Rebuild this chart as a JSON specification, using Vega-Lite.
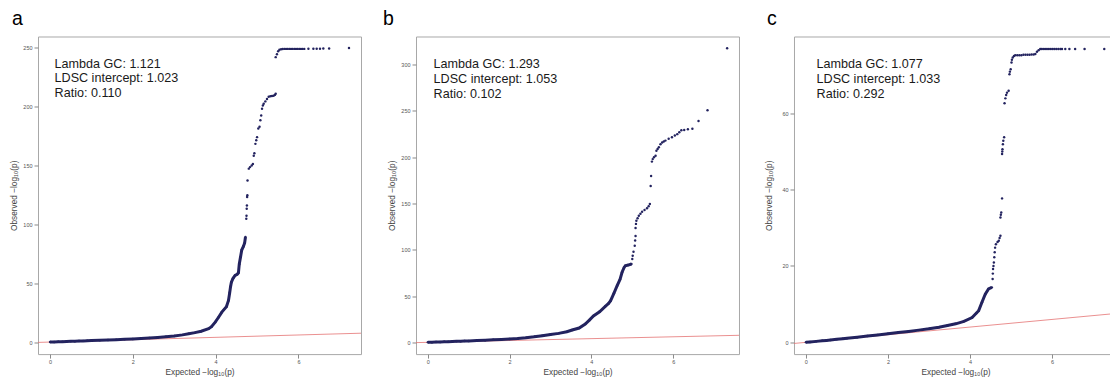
{
  "$schema": "https://vega.github.io/schema/vega-lite/v6.json",
  "background": "white",
  "padding": {"left": 8, "top": 7.5, "right": 0, "bottom": 0},
  "bounds": "flush",
  "spacing": 55,
  "config": {
    "font": "Liberation Sans",
    "view": {"stroke": "#a8a8a8", "strokeWidth": 1},
    "axis": {"grid": false, "domain": false, "tickColor": "#8a8a8a", "tickSize": 4, "labelFontSize": 5.5, "labelColor": "#555555", "titleFontSize": 8.3, "titleFontWeight": "normal", "titleColor": "#444444", "labelFont": "Liberation Sans", "titleFont": "Liberation Sans"},
    "axisY": {"minExtent": 16, "maxExtent": 16, "titlePadding": 4, "labelPadding": 2},
    "axisX": {"labelPadding": 1.5, "titlePadding": 2.5},
    "title": {"fontSize": 19.5, "fontWeight": "normal", "anchor": "start", "frame": "group", "baseline": "alphabetic", "color": "#000000", "font": "Liberation Sans"}
  },
  "datasets": {
    "diag": [{"x": -0.4, "y": -0.4}, {"x": 7.8, "y": 7.8}],
    "ann": [
      {"panel": "a", "x": 0.11, "y": 232.5, "label": "Lambda GC: 1.121\nLDSC intercept: 1.023\nRatio: 0.110"},
      {"panel": "b", "x": 0.14, "y": 296.2, "label": "Lambda GC: 1.293\nLDSC intercept: 1.053\nRatio: 0.102"},
      {"panel": "c", "x": 0.26, "y": 71.8, "label": "Lambda GC: 1.077\nLDSC intercept: 1.033\nRatio: 0.292"}
    ],
    "a": [
      {"x": 0, "y": 0}, {"x": 0.1, "y": 0.1}, {"x": 0.2, "y": 0.25}, {"x": 0.3, "y": 0.35}, {"x": 0.4, "y": 0.5}, {"x": 0.5, "y": 0.6}, {"x": 0.6, "y": 0.75}, {"x": 0.7, "y": 0.85}, {"x": 0.8, "y": 1.0}, {"x": 0.9, "y": 1.1}, {"x": 1.0, "y": 1.25}, {"x": 1.2, "y": 1.5}, {"x": 1.4, "y": 1.8}, {"x": 1.6, "y": 2.05}, {"x": 1.8, "y": 2.35}, {"x": 2.0, "y": 2.65}, {"x": 2.2, "y": 3.0}, {"x": 2.4, "y": 3.4}, {"x": 2.6, "y": 3.9}, {"x": 2.8, "y": 4.5}, {"x": 3.0, "y": 5.2}, {"x": 3.2, "y": 6.1}, {"x": 3.35, "y": 7.0}, {"x": 3.5, "y": 8.0}, {"x": 3.65, "y": 9.2}, {"x": 3.83, "y": 11.3}, {"x": 3.9, "y": 13}, {"x": 3.99, "y": 16.9}, {"x": 4.07, "y": 21}, {"x": 4.15, "y": 25.4}, {"x": 4.2, "y": 27.5}, {"x": 4.26, "y": 30}, {"x": 4.31, "y": 35.3}, {"x": 4.34, "y": 42}, {"x": 4.36, "y": 47}, {"x": 4.38, "y": 50.8}, {"x": 4.42, "y": 54}, {"x": 4.47, "y": 56.5}, {"x": 4.52, "y": 57.5}, {"x": 4.55, "y": 58.7}, {"x": 4.57, "y": 66}, {"x": 4.6, "y": 72}, {"x": 4.63, "y": 78}, {"x": 4.67, "y": 81}, {"x": 4.7, "y": 84}, {"x": 4.72, "y": 89},
      {"x": 4.74, "y": 104.5}, {"x": 4.745, "y": 107}, {"x": 4.75, "y": 113}, {"x": 4.755, "y": 115.8}, {"x": 4.76, "y": 122.9}, {"x": 4.765, "y": 124.5}, {"x": 4.77, "y": 137}, {"x": 4.8, "y": 147}, {"x": 4.83, "y": 148.3}, {"x": 4.87, "y": 149.7}, {"x": 4.9, "y": 151}, {"x": 4.92, "y": 158}, {"x": 4.935, "y": 160}, {"x": 4.96, "y": 168}, {"x": 4.98, "y": 171}, {"x": 5.0, "y": 173.7}, {"x": 5.03, "y": 181}, {"x": 5.06, "y": 182.5}, {"x": 5.08, "y": 188}, {"x": 5.1, "y": 192}, {"x": 5.12, "y": 197.7}, {"x": 5.14, "y": 200.5}, {"x": 5.16, "y": 202}, {"x": 5.2, "y": 204}, {"x": 5.24, "y": 206}, {"x": 5.28, "y": 208}, {"x": 5.32, "y": 208.3}, {"x": 5.36, "y": 208.5}, {"x": 5.4, "y": 208.8}, {"x": 5.43, "y": 209.5}, {"x": 5.45, "y": 210.4},
      {"x": 5.45, "y": 241.5}, {"x": 5.48, "y": 244}, {"x": 5.51, "y": 246.5}, {"x": 5.54, "y": 247.7}, {"x": 5.58, "y": 248.2}, {"x": 5.62, "y": 248.4}, {"x": 5.66, "y": 248.5}, {"x": 5.7, "y": 248.5}, {"x": 5.74, "y": 248.5}, {"x": 5.78, "y": 248.5}, {"x": 5.82, "y": 248.5}, {"x": 5.86, "y": 248.5}, {"x": 5.9, "y": 248.5}, {"x": 5.94, "y": 248.5}, {"x": 5.98, "y": 248.5}, {"x": 6.02, "y": 248.5}, {"x": 6.06, "y": 248.5}, {"x": 6.1, "y": 248.5}, {"x": 6.14, "y": 248.5}, {"x": 6.24, "y": 248.6}, {"x": 6.36, "y": 248.6}, {"x": 6.44, "y": 248.7}, {"x": 6.52, "y": 248.7}, {"x": 6.6, "y": 248.8}, {"x": 6.74, "y": 248.8}, {"x": 7.22, "y": 249.2}
    ],
    "b": [
      {"x": 0, "y": 0}, {"x": 0.1, "y": 0.15}, {"x": 0.2, "y": 0.3}, {"x": 0.3, "y": 0.45}, {"x": 0.4, "y": 0.6}, {"x": 0.5, "y": 0.75}, {"x": 0.6, "y": 0.9}, {"x": 0.7, "y": 1.05}, {"x": 0.8, "y": 1.2}, {"x": 0.9, "y": 1.35}, {"x": 1.0, "y": 1.5}, {"x": 1.2, "y": 1.9}, {"x": 1.4, "y": 2.3}, {"x": 1.6, "y": 2.7}, {"x": 1.8, "y": 3.1}, {"x": 2.0, "y": 3.6}, {"x": 2.2, "y": 4.2}, {"x": 2.4, "y": 5.0}, {"x": 2.6, "y": 6.0}, {"x": 2.8, "y": 7.2}, {"x": 3.0, "y": 8.5}, {"x": 3.2, "y": 9.7}, {"x": 3.4, "y": 11.5}, {"x": 3.53, "y": 13.3}, {"x": 3.7, "y": 15.5}, {"x": 3.85, "y": 19.8}, {"x": 3.95, "y": 24}, {"x": 4.05, "y": 28.5}, {"x": 4.2, "y": 33}, {"x": 4.34, "y": 38.9}, {"x": 4.42, "y": 42}, {"x": 4.47, "y": 45}, {"x": 4.55, "y": 53}, {"x": 4.63, "y": 61.2}, {"x": 4.7, "y": 68}, {"x": 4.75, "y": 75.7}, {"x": 4.8, "y": 81}, {"x": 4.83, "y": 82.8}, {"x": 4.9, "y": 83.5}, {"x": 4.98, "y": 84.6},
      {"x": 5.0, "y": 90}, {"x": 5.01, "y": 93.6}, {"x": 5.03, "y": 98}, {"x": 5.06, "y": 104.4}, {"x": 5.07, "y": 110}, {"x": 5.08, "y": 115}, {"x": 5.08, "y": 123.6}, {"x": 5.09, "y": 128}, {"x": 5.1, "y": 131.5}, {"x": 5.13, "y": 134}, {"x": 5.16, "y": 136.9}, {"x": 5.2, "y": 139}, {"x": 5.24, "y": 141.2}, {"x": 5.3, "y": 143}, {"x": 5.36, "y": 145}, {"x": 5.4, "y": 147}, {"x": 5.43, "y": 149.5}, {"x": 5.45, "y": 169}, {"x": 5.46, "y": 179.8}, {"x": 5.48, "y": 195.3}, {"x": 5.5, "y": 198}, {"x": 5.53, "y": 200}, {"x": 5.57, "y": 201.7}, {"x": 5.59, "y": 207}, {"x": 5.62, "y": 209}, {"x": 5.65, "y": 210.8}, {"x": 5.69, "y": 214}, {"x": 5.73, "y": 216}, {"x": 5.77, "y": 217}, {"x": 5.81, "y": 218}, {"x": 5.89, "y": 220}, {"x": 5.97, "y": 221.6}, {"x": 6.04, "y": 223.5}, {"x": 6.1, "y": 225}, {"x": 6.15, "y": 227}, {"x": 6.2, "y": 229.2}, {"x": 6.27, "y": 229.5}, {"x": 6.36, "y": 230.3}, {"x": 6.47, "y": 230.9}, {"x": 6.62, "y": 239.2}, {"x": 6.84, "y": 250.8}, {"x": 7.32, "y": 317.8}
    ],
    "c": [
      {"x": 0, "y": 0}, {"x": 0.1, "y": 0.1}, {"x": 0.25, "y": 0.25}, {"x": 0.4, "y": 0.4}, {"x": 0.5, "y": 0.5}, {"x": 0.6, "y": 0.62}, {"x": 0.75, "y": 0.8}, {"x": 0.9, "y": 0.95}, {"x": 1.0, "y": 1.05}, {"x": 1.25, "y": 1.35}, {"x": 1.5, "y": 1.65}, {"x": 1.75, "y": 1.95}, {"x": 2.0, "y": 2.25}, {"x": 2.25, "y": 2.55}, {"x": 2.5, "y": 2.85}, {"x": 2.75, "y": 3.2}, {"x": 3.0, "y": 3.55}, {"x": 3.24, "y": 3.95}, {"x": 3.45, "y": 4.4}, {"x": 3.65, "y": 4.85}, {"x": 3.85, "y": 5.5}, {"x": 4.05, "y": 6.5}, {"x": 4.15, "y": 7.6}, {"x": 4.21, "y": 8.3}, {"x": 4.29, "y": 10.5}, {"x": 4.37, "y": 12.6}, {"x": 4.45, "y": 14}, {"x": 4.53, "y": 14.4},
      {"x": 4.55, "y": 16.6}, {"x": 4.555, "y": 18}, {"x": 4.56, "y": 19.2}, {"x": 4.57, "y": 20}, {"x": 4.58, "y": 20.9}, {"x": 4.59, "y": 22.3}, {"x": 4.6, "y": 23.6}, {"x": 4.61, "y": 24.8}, {"x": 4.63, "y": 25.7}, {"x": 4.67, "y": 26.3}, {"x": 4.7, "y": 26.6}, {"x": 4.72, "y": 27.3}, {"x": 4.74, "y": 27.9}, {"x": 4.74, "y": 32.7}, {"x": 4.75, "y": 33.4}, {"x": 4.76, "y": 34}, {"x": 4.78, "y": 37.7}, {"x": 4.78, "y": 49.3}, {"x": 4.785, "y": 50}, {"x": 4.79, "y": 50.6}, {"x": 4.8, "y": 51.9}, {"x": 4.81, "y": 52.8}, {"x": 4.83, "y": 53.7}, {"x": 4.84, "y": 62.6}, {"x": 4.86, "y": 63.9}, {"x": 4.88, "y": 64.8}, {"x": 4.9, "y": 65.4}, {"x": 4.94, "y": 65.9}, {"x": 4.96, "y": 70.2}, {"x": 4.97, "y": 70.9}, {"x": 4.99, "y": 71.5}, {"x": 5.01, "y": 73.3}, {"x": 5.02, "y": 74}, {"x": 5.04, "y": 74.6}, {"x": 5.07, "y": 75}, {"x": 5.1, "y": 75.2}, {"x": 5.15, "y": 75.2}, {"x": 5.2, "y": 75.2}, {"x": 5.25, "y": 75.2}, {"x": 5.3, "y": 75.3}, {"x": 5.35, "y": 75.3}, {"x": 5.4, "y": 75.3}, {"x": 5.45, "y": 75.3}, {"x": 5.5, "y": 75.4}, {"x": 5.55, "y": 75.4}, {"x": 5.59, "y": 75.5}, {"x": 5.63, "y": 76.1}, {"x": 5.67, "y": 76.5}, {"x": 5.71, "y": 76.8}, {"x": 5.75, "y": 76.8}, {"x": 5.8, "y": 76.8}, {"x": 5.85, "y": 76.8}, {"x": 5.9, "y": 76.8}, {"x": 5.95, "y": 76.8}, {"x": 6.0, "y": 76.8}, {"x": 6.05, "y": 76.8}, {"x": 6.1, "y": 76.8}, {"x": 6.15, "y": 76.8}, {"x": 6.2, "y": 76.8}, {"x": 6.24, "y": 76.8}, {"x": 6.32, "y": 76.8}, {"x": 6.42, "y": 76.8}, {"x": 6.56, "y": 76.8}, {"x": 6.79, "y": 76.8}, {"x": 7.27, "y": 76.8}
    ]
  },
  "hconcat": [
    {
      "width": 323, "height": 317.6,
      "title": {"text": "a", "dx": -26, "offset": 7.4},
      "encoding": {
        "x": {"field": "x", "type": "quantitative", "scale": {"domain": [-0.29, 7.51], "nice": false, "zero": false}, "axis": {"values": [0, 2, 4, 6], "title": "Expected  −log₁₀(p)"}},
        "y": {"field": "y", "type": "quantitative", "scale": {"domain": [-10.2, 259], "nice": false, "zero": false}, "axis": {"values": [0, 50, 100, 150, 200, 250], "title": "Observed  −log₁₀(p)"}}
      },
      "layer": [
        {"data": {"name": "diag"}, "mark": {"type": "line", "color": "#e57373", "strokeWidth": 0.8, "clip": true}},
        {"data": {"name": "a"}, "transform": [{"filter": "datum.x <= 4.72"}], "mark": {"type": "line", "color": "#23235f", "strokeWidth": 3}},
        {"data": {"name": "a"}, "mark": {"type": "circle", "color": "#23235f", "size": 6, "opacity": 1}},
        {"data": {"name": "ann"}, "transform": [{"filter": "datum.panel === 'a'"}], "mark": {"type": "text", "align": "left", "baseline": "alphabetic", "fontSize": 12.6, "lineHeight": 14.7, "lineBreak": "\n", "color": "#1a1a1a", "font": "Liberation Sans"}, "encoding": {"text": {"field": "label"}}}
      ]
    },
    {
      "width": 323, "height": 317.6,
      "title": {"text": "b", "dx": -33, "offset": 7.4},
      "encoding": {
        "x": {"field": "x", "type": "quantitative", "scale": {"domain": [-0.29, 7.61], "nice": false, "zero": false}, "axis": {"values": [0, 2, 4, 6], "title": "Expected  −log₁₀(p)"}},
        "y": {"field": "y", "type": "quantitative", "scale": {"domain": [-12.7, 330.5], "nice": false, "zero": false}, "axis": {"values": [0, 50, 100, 150, 200, 250, 300], "title": "Observed  −log₁₀(p)"}}
      },
      "layer": [
        {"data": {"name": "diag"}, "mark": {"type": "line", "color": "#e57373", "strokeWidth": 0.8, "clip": true}},
        {"data": {"name": "b"}, "transform": [{"filter": "datum.x <= 4.98"}], "mark": {"type": "line", "color": "#23235f", "strokeWidth": 3}},
        {"data": {"name": "b"}, "mark": {"type": "circle", "color": "#23235f", "size": 6, "opacity": 1}},
        {"data": {"name": "ann"}, "transform": [{"filter": "datum.panel === 'b'"}], "mark": {"type": "text", "align": "left", "baseline": "alphabetic", "fontSize": 12.6, "lineHeight": 14.7, "lineBreak": "\n", "color": "#1a1a1a", "font": "Liberation Sans"}, "encoding": {"text": {"field": "label"}}}
      ]
    },
    {
      "width": 323, "height": 317.6,
      "title": {"text": "c", "dx": -27, "offset": 7.4},
      "encoding": {
        "x": {"field": "x", "type": "quantitative", "scale": {"domain": [-0.29, 7.58], "nice": false, "zero": false}, "axis": {"values": [0, 2, 4, 6], "title": "Expected  −log₁₀(p)"}},
        "y": {"field": "y", "type": "quantitative", "scale": {"domain": [-3.08, 80.1], "nice": false, "zero": false}, "axis": {"values": [0, 20, 40, 60], "title": "Observed  −log₁₀(p)"}}
      },
      "layer": [
        {"data": {"name": "diag"}, "mark": {"type": "line", "color": "#e57373", "strokeWidth": 0.8, "clip": true}},
        {"data": {"name": "c"}, "transform": [{"filter": "datum.x <= 4.53"}], "mark": {"type": "line", "color": "#23235f", "strokeWidth": 3}},
        {"data": {"name": "c"}, "mark": {"type": "circle", "color": "#23235f", "size": 6, "opacity": 1}},
        {"data": {"name": "ann"}, "transform": [{"filter": "datum.panel === 'c'"}], "mark": {"type": "text", "align": "left", "baseline": "alphabetic", "fontSize": 12.6, "lineHeight": 14.7, "lineBreak": "\n", "color": "#1a1a1a", "font": "Liberation Sans"}, "encoding": {"text": {"field": "label"}}}
      ]
    }
  ]
}
